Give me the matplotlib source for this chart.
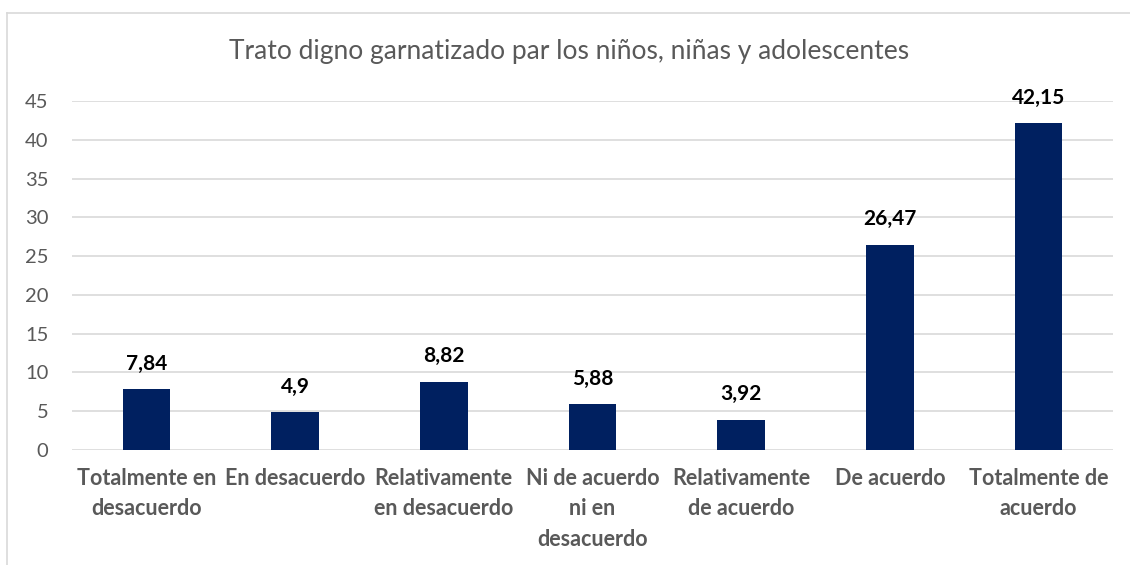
import matplotlib

matplotlib.use("Agg")
import matplotlib.pyplot as plt

categorias = [
    "Totalmente en\ndesacuerdo",
    "En desacuerdo",
    "Relativamente\nen desacuerdo",
    "Ni de acuerdo\nni en\ndesacuerdo",
    "Relativamente\nde acuerdo",
    "De acuerdo",
    "Totalmente de\nacuerdo",
]
valores = [7.84, 4.9, 8.82, 5.88, 3.92, 26.47, 42.15]
etiquetas = ["7,84", "4,9", "8,82", "5,88", "3,92", "26,47", "42,15"]
yticks = [0, 5, 10, 15, 20, 25, 30, 35, 40, 45]

plt.rcParams["font.family"] = ["Lato", "DejaVu Sans"]
gris = "#595959"

fig = plt.figure(figsize=(11.3, 5.65), dpi=100)
ax = fig.add_axes([0.0637, 0.2035, 0.9213, 0.6177])

x = range(len(categorias))
ax.bar(x, valores, width=0.32, color="#002060", zorder=3)
for xi, v, t in zip(x, valores, etiquetas):
    ax.annotate(t, (xi, v), xytext=(0, 11), textcoords="offset points",
                ha="center", va="bottom", fontsize=15, fontweight="bold", color="black")

ax.set_xlim(-0.5, len(categorias) - 0.5)
ax.set_ylim(0, 45)
ax.set_yticks(yticks)
ax.set_yticklabels([str(t) for t in yticks], fontsize=14.5, color=gris)
ax.set_xticks(list(x))
ax.set_xticklabels(categorias, fontsize=15.5, fontweight="bold", color=gris, linespacing=1.55)
ax.tick_params(axis="y", length=0, pad=17)
ax.tick_params(axis="x", length=0, pad=13)
ax.grid(axis="y", color="#D9D9D9", lw=1.2, zorder=0)
for s in ax.spines.values():
    s.set_visible(False)

fig.text(0.504, 0.908, "Trato digno garnatizado par los niños, niñas y adolescentes",
         ha="center", va="center", fontsize=19, color=gris)

# borde del gráfico
fig.add_artist(plt.Line2D([0.0062, 0.0062], [0, 0.977], color="#D9D9D9", lw=1.2))
fig.add_artist(plt.Line2D([0.0062, 1], [0.977, 0.977], color="#D9D9D9", lw=1.2))

fig.savefig("out.png", dpi=100)
